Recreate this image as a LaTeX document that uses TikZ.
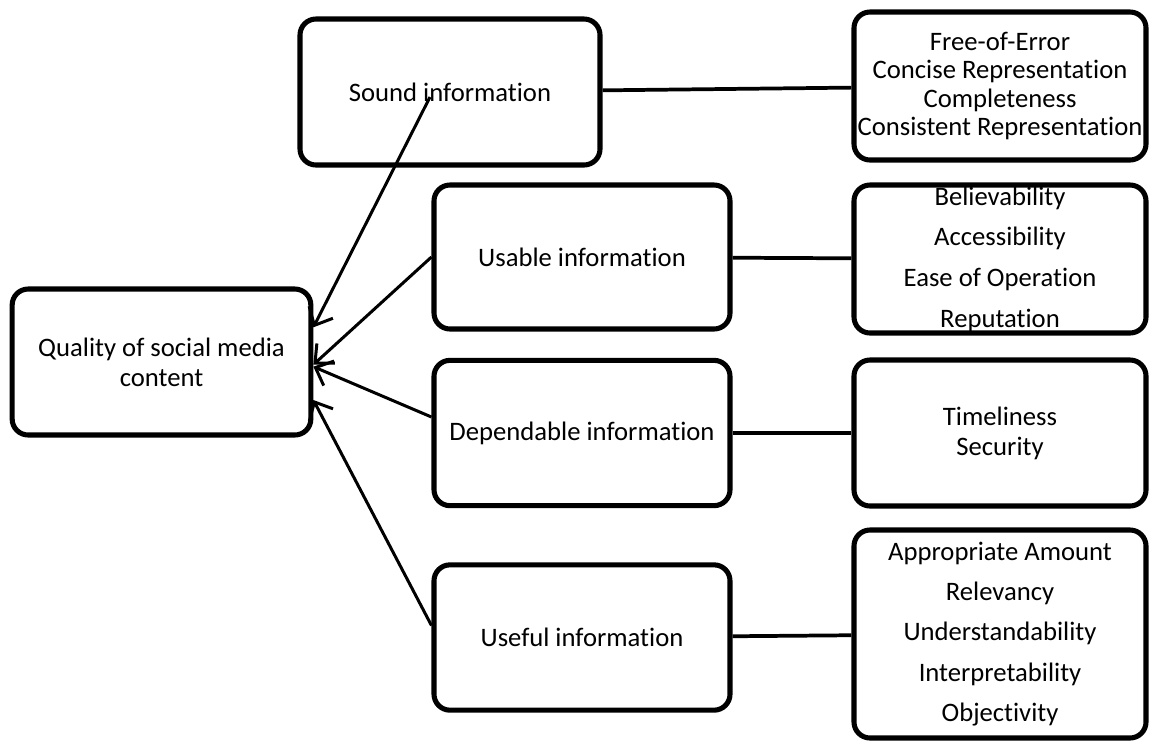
\documentclass[tikz,border=0pt]{standalone}
\usepackage{fontspec}
\setmainfont{Carlito}[Ligatures=NoCommon]
\usetikzlibrary{positioning, arrows.meta}
\tikzset{
	box/.style={draw, line width=3.8pt, rounded corners=12pt, align=center, inner xsep=2pt, inner ysep=0pt, font=\fontsize{20}{24}\selectfont},
	arrow/.style={line width=2.25pt, -{Straight Barb[length=11pt, width=20pt]}},
	link/.style={line width=2.8pt},
}

\begin{document}
\begin{tikzpicture}[x=0.75pt, y=-0.75pt]
		\useasboundingbox (0,0) rectangle (1151,744);
		% Quality of content
		\node[box, minimum width=224pt, minimum height=109.5pt, font=\fontsize{20}{22.5}\selectfont] (Q) at (161.5,362) {Quality of social media\\content};

		% Kinds of information
		\node[box, minimum width=225pt, minimum height=109.5pt] (S) at (450,92) {Sound information};
		\node[box, minimum width=222pt, minimum height=108pt] (U) at (582,257) {Usable information};
		\node[box, minimum width=222pt, minimum height=109pt] (D) at (582,433) {Dependable information};
		\node[box, minimum width=222pt, minimum height=109pt] (F) at (582,637.5) {Useful information};

		% Dimensions
		\node[box, minimum width=219pt, minimum height=111pt, font=\fontsize{20}{21.4}\selectfont] (S1) at (1000,86) {Free-of-Error\\Concise Representation\\Completeness\\Consistent Representation};
		\node[box, minimum width=219pt, minimum height=111pt, font=\fontsize{20}{30.5}\selectfont] (U1) at (1000,259) {Believability\\Accessibility\\Ease of Operation\\Reputation};
		\node[box, minimum width=219pt, minimum height=109.5pt, font=\fontsize{20}{22.5}\selectfont] (D1) at (1000,433) {Timeliness\\Security};
		\node[box, minimum width=219pt, minimum height=156pt, font=\fontsize{20}{30.2}\selectfont] (F1) at (1000,634) {Appropriate Amount\\Relevancy\\Understandability\\Interpretability\\Objectivity};

		\draw[link] (S) -- (S1);
		\draw[link] (U) -- (U1);
		\draw[link] (D) -- (D1);
		\draw[link] (F) -- (F1);

		\coordinate (S0) at (430,97);
		\draw[arrow] (S0) -- ([yshift=26pt]Q.east);
		\draw[arrow] (U.west) -- ([yshift=-2pt]Q.east);
		\draw[arrow] ([yshift=12pt]D.west) -- ([yshift=-3.5pt]Q.east);
		\draw[arrow] ([yshift=9pt]F.west) -- ([yshift=-28.5pt]Q.east);
	\end{tikzpicture}
\end{document}
